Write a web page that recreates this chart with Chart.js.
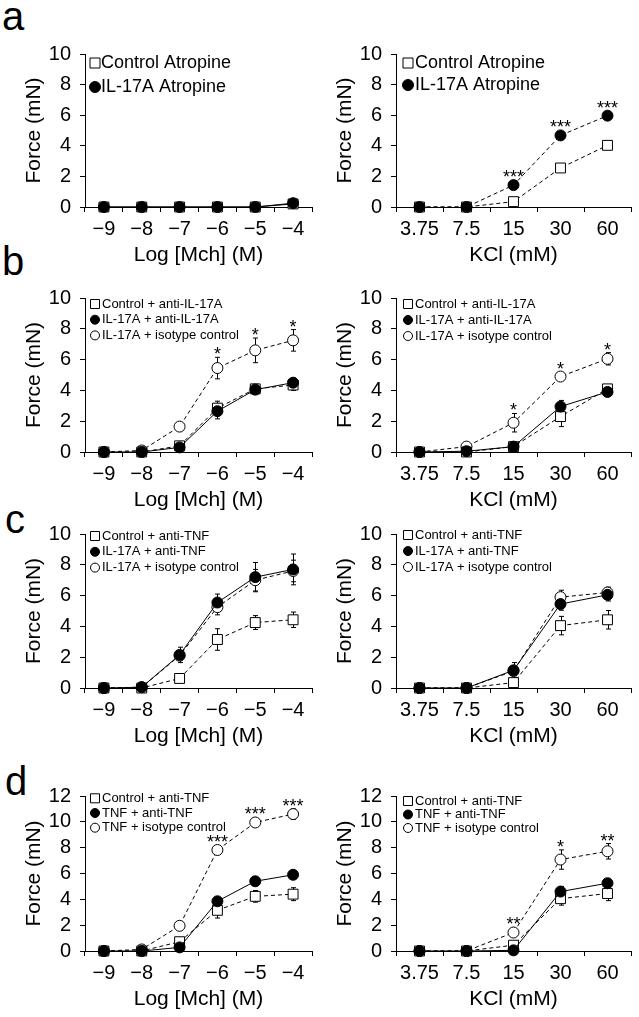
<!DOCTYPE html>
<html><head><meta charset="utf-8">
<script src="https://cdn.jsdelivr.net/npm/chart.js@4.4.1/dist/chart.umd.min.js"></script>
<style>
html,body{margin:0;padding:0;background:#fff;}
body{width:639px;height:1017px;position:relative;overflow:hidden;font-family:'Liberation Sans',Arial,sans-serif;}
.cell{position:absolute;}
.letter{position:absolute;font-size:40px;line-height:40px;color:#000;}
</style></head><body>
<div class="letter" style="left:2px;top:-4px">a</div>
<div class="letter" style="left:2px;top:241px">b</div>
<div class="letter" style="left:5px;top:499px">c</div>
<div class="letter" style="left:5px;top:761px">d</div>
<script>
// ---------- categories ----------
const mchLabels = ['\u22129','\u22128','\u22127','\u22126','\u22125','\u22124'];
const kclLabels = ['3.75','7.5','15','30','60'];
const yTitle = 'Force (mN)';
const mchTitle = 'Log [Mch] (M)';
const kclTitle = 'KCl (mM)';

// ---------- panel a ----------
const aMchControl    = [0, 0, 0, 0, 0, 0.2];
const aMchIL17A      = [0, 0, 0, 0, 0, 0.25];
const aKclControl    = [0, 0, 0.35, 2.55, 4.03];
const aKclControlErr = [0, 0, 0.1, 0.15, 0.15];
const aKclIL17A      = [0, 0, 1.43, 4.68, 5.97];
const aKclStars      = ['', '', '***', '***', '***'];

// ---------- panel b ----------
const bMchControl    = [0, 0, 0.4, 2.85, 4.1, 4.35];
const bMchControlErr = [0, 0, 0.1, 0.45, 0.3, 0.35];
const bMchIL17A      = [0, 0, 0.3, 2.65, 4.05, 4.5];
const bMchIL17AErr   = [0, 0, 0.1, 0.5, 0.3, 0.3];
const bMchIso        = [0, 0.1, 1.65, 5.45, 6.6, 7.25];
const bMchIsoErr     = [0, 0, 0.1, 0.7, 0.8, 0.7];
const bMchStars      = ['', '', '', '*', '*', '*'];

const bKclControl    = [0, 0, 0.35, 2.3, 4.1];
const bKclControlErr = [0, 0, 0.05, 0.65, 0.25];
const bKclIL17A      = [0, 0.05, 0.35, 2.95, 3.9];
const bKclIL17AErr   = [0, 0, 0.05, 0.4, 0.2];
const bKclIso        = [0, 0.35, 1.9, 4.9, 6.05];
const bKclIsoErr     = [0, 0.05, 0.6, 0.2, 0.4];
const bKclStars      = ['', '', '*', '*', '*'];

// ---------- panel c ----------
const cMchControl    = [0, 0, 0.62, 3.15, 4.25, 4.43];
const cMchControlErr = [0, 0, 0.1, 0.7, 0.45, 0.5];
const cMchIL17A      = [0, 0.05, 2.15, 5.55, 7.2, 7.7];
const cMchIL17AErr   = [0, 0, 0.5, 0.55, 0.95, 1.0];
const cMchIso        = [0, 0.05, 2.1, 5.25, 7.0, 7.6];
const cMchIsoErr     = [0, 0, 0.3, 0.5, 0.7, 0.7];

const cKclControl    = [0, 0, 0.35, 4.05, 4.43];
const cKclControlErr = [0, 0, 0.05, 0.6, 0.6];
const cKclIL17A      = [0, 0, 1.15, 5.45, 6.05];
const cKclIL17AErr   = [0, 0, 0.5, 0.4, 0.4];
const cKclIso        = [0, 0, 1.1, 5.9, 6.2];
const cKclIsoErr     = [0, 0, 0.3, 0.45, 0.35];

// ---------- panel d ----------
const dMchControl    = [0, 0, 0.72, 3.15, 4.23, 4.4];
const dMchControlErr = [0, 0, 0.1, 0.6, 0.45, 0.5];
const dMchTNF        = [0, 0, 0.28, 3.85, 5.4, 5.9];
const dMchTNFErr     = [0, 0, 0.1, 0.3, 0.25, 0.2];
const dMchIso        = [0, 0.12, 1.95, 7.82, 9.95, 10.6];
const dMchIsoErr     = [0, 0.05, 0.2, 0.3, 0.2, 0.4];
const dMchStars      = ['', '', '', '***', '***', '***'];

const dKclControl    = [0, 0, 0.45, 4.05, 4.45];
const dKclControlErr = [0, 0, 0.05, 0.5, 0.55];
const dKclTNF        = [0, 0, 0.05, 4.6, 5.25];
const dKclTNFErr     = [0, 0, 0.05, 0.4, 0.3];
const dKclIso        = [0, 0, 1.43, 7.08, 7.72];
const dKclIsoErr     = [0, 0, 0.1, 0.75, 0.6];
const dKclStars      = ['', '', '**', '*', '**'];

// ---------- styling ----------
const FONT = "'Liberation Sans', Arial, sans-serif";
const STY = {
  sq:   {ps:'rect',   r:7,   bg:'#fff', order:1},
  fill: {ps:'circle', r:5.5, bg:'#000', order:0},
  ring: {ps:'circle', r:5.5, bg:'#fff', order:2}
};
const LEG_A  = {size:18, sq:10, cr:5.5, half:5};
const LEG_S  = {size:13, sq:9,  cr:4.5, half:5};

const panels = [
  {left:0,   top:33,  w:320, h:235, pr:1, labels:mchLabels, xTitle:mchTitle, max:10,
   legend:Object.assign({x0:10, y0:9, dy:24, gap:6}, LEG_A),
   series:[
    {label:'Control Atropine', kind:'sq',   data:aMchControl, dash:false},
    {label:'IL-17A Atropine',  kind:'fill', data:aMchIL17A,   dash:false}]},
  {left:311, top:33,  w:328, h:235, pr:8, labels:kclLabels, xTitle:kclTitle, max:10,
   legend:Object.assign({x0:12, y0:9, dy:22, gap:7}, LEG_A),
   series:[
    {label:'Control Atropine', kind:'sq',   data:aKclControl, err:aKclControlErr, dash:true},
    {label:'IL-17A Atropine',  kind:'fill', data:aKclIL17A, stars:aKclStars, dash:true}]},

  {left:0,   top:277, w:320, h:236, pr:1, labels:mchLabels, xTitle:mchTitle, max:10,
   legend:Object.assign({x0:10, y0:6, dy:15.7, gap:7}, LEG_S),
   series:[
    {label:'Control + anti-IL-17A',    kind:'sq',   data:bMchControl, err:bMchControlErr, dash:true},
    {label:'IL-17A + anti-IL-17A',     kind:'fill', data:bMchIL17A,   err:bMchIL17AErr,   dash:false},
    {label:'IL-17A + isotype control', kind:'ring', data:bMchIso,     err:bMchIsoErr, stars:bMchStars, dash:true}]},
  {left:311, top:277, w:328, h:236, pr:8, labels:kclLabels, xTitle:kclTitle, max:10,
   legend:Object.assign({x0:12, y0:6, dy:16, gap:7}, LEG_S),
   series:[
    {label:'Control + anti-IL-17A',    kind:'sq',   data:bKclControl, err:bKclControlErr, dash:true},
    {label:'IL-17A + anti-IL-17A',     kind:'fill', data:bKclIL17A,   err:bKclIL17AErr,   dash:false},
    {label:'IL-17A + isotype control', kind:'ring', data:bKclIso,     err:bKclIsoErr, stars:bKclStars, dash:true}]},

  {left:0,   top:513, w:320, h:236, pr:1, labels:mchLabels, xTitle:mchTitle, max:10,
   legend:Object.assign({x0:10, y0:2, dy:15.8, gap:7}, LEG_S),
   series:[
    {label:'Control + anti-TNF',       kind:'sq',   data:cMchControl, err:cMchControlErr, dash:true},
    {label:'IL-17A + anti-TNF',        kind:'fill', data:cMchIL17A,   err:cMchIL17AErr,   dash:false},
    {label:'IL-17A + isotype control', kind:'ring', data:cMchIso,     err:cMchIsoErr,     dash:true}]},
  {left:311, top:513, w:328, h:236, pr:8, labels:kclLabels, xTitle:kclTitle, max:10,
   legend:Object.assign({x0:12, y0:1, dy:16, gap:7}, LEG_S),
   series:[
    {label:'Control + anti-TNF',       kind:'sq',   data:cKclControl, err:cKclControlErr, dash:true},
    {label:'IL-17A + anti-TNF',        kind:'fill', data:cKclIL17A,   err:cKclIL17AErr,   dash:false},
    {label:'IL-17A + isotype control', kind:'ring', data:cKclIso,     err:cKclIsoErr,     dash:true}]},

  {left:0,   top:775, w:320, h:237, pr:1, labels:mchLabels, xTitle:mchTitle, max:12,
   legend:Object.assign({x0:10, y0:2.3, dy:14.7, gap:7}, LEG_S),
   series:[
    {label:'Control + anti-TNF',    kind:'sq',   data:dMchControl, err:dMchControlErr, dash:true},
    {label:'TNF + anti-TNF',        kind:'fill', data:dMchTNF,     err:dMchTNFErr,     dash:false},
    {label:'TNF + isotype control', kind:'ring', data:dMchIso,     err:dMchIsoErr, stars:dMchStars, dash:true}]},
  {left:311, top:775, w:328, h:237, pr:8, labels:kclLabels, xTitle:kclTitle, max:12,
   legend:Object.assign({x0:12, y0:5, dy:13.5, gap:7}, LEG_S),
   series:[
    {label:'Control + anti-TNF',    kind:'sq',   data:dKclControl, err:dKclControlErr, dash:true},
    {label:'TNF + anti-TNF',        kind:'fill', data:dKclTNF,     err:dKclTNFErr,     dash:false},
    {label:'TNF + isotype control', kind:'ring', data:dKclIso,     err:dKclIsoErr, stars:dKclStars, dash:true}]}
];

function drawMarker(ctx, ps, x, y, L, bg){
  ctx.fillStyle = bg; ctx.strokeStyle = '#000'; ctx.lineWidth = 1;
  ctx.beginPath();
  if (ps === 'rect') { const h = L.sq/2; ctx.rect(x-h, y-h, L.sq, L.sq); }
  else { ctx.arc(x, y, L.cr, 0, Math.PI*2); }
  ctx.fill(); ctx.stroke();
}

const extras = {
  id: 'extras',
  beforeDatasetsDraw(chart){
    const ctx = chart.ctx, xs = chart.scales.x, ys = chart.scales.y;
    ctx.save(); ctx.strokeStyle = '#000'; ctx.lineWidth = 1; ctx.setLineDash([]);
    chart.data.datasets.forEach(d => {
      if (!d.err) return;
      d.data.forEach((v, j) => {
        const e = d.err[j]; if (!e) return;
        const px = Math.round(xs.getPixelForValue(j)) + 0.5;
        const y1 = ys.getPixelForValue(v + e), y2 = ys.getPixelForValue(Math.max(0, v - e));
        ctx.beginPath();
        ctx.moveTo(px, y1); ctx.lineTo(px, y2);
        ctx.moveTo(px - 2.5, y1); ctx.lineTo(px + 2.5, y1);
        ctx.moveTo(px - 2.5, y2); ctx.lineTo(px + 2.5, y2);
        ctx.stroke();
      });
    });
    ctx.restore();
  },
  afterDatasetsDraw(chart){
    const ctx = chart.ctx, xs = chart.scales.x, ys = chart.scales.y;
    ctx.save(); ctx.fillStyle = '#000'; ctx.font = '18px ' + FONT;
    ctx.textAlign = 'center'; ctx.textBaseline = 'middle';
    chart.data.datasets.forEach(d => {
      if (!d.stars) return;
      d.data.forEach((v, j) => {
        const s = d.stars[j]; if (!s) return;
        const e = d.err ? d.err[j] : 0;
        const px = xs.getPixelForValue(j);
        const top = Math.min(ys.getPixelForValue(v + e), ys.getPixelForValue(v) - 5) - 6;
        ctx.fillText(s, px, top + 4);
      });
    });
    ctx.restore();
  },
  afterDraw(chart, args, o){
    const L = o.legend; if (!L) return;
    const ctx = chart.ctx, ca = chart.chartArea;
    ctx.save();
    chart.data.datasets.forEach((d, i) => {
      const y = ca.top + L.y0 + i * L.dy, x = ca.left + L.x0;
      ctx.strokeStyle = '#000'; ctx.lineWidth = 1; ctx.setLineDash(d.borderDash || []);
      ctx.beginPath(); ctx.moveTo(x - L.half, y); ctx.lineTo(x + L.half, y); ctx.stroke();
      ctx.setLineDash([]);
      drawMarker(ctx, d.pointStyle, x, y, L, d.pointBackgroundColor);
      ctx.fillStyle = '#000'; ctx.font = L.size + 'px ' + FONT;
      ctx.textBaseline = 'middle'; ctx.textAlign = 'left';
      ctx.fillText(d.label, x + L.gap, y);
    });
    ctx.restore();
  }
};

function mkDs(s){
  const st = STY[s.kind];
  return {
    label: s.label, data: s.data, err: s.err, stars: s.stars,
    borderColor: '#000', borderWidth: 1, borderDash: s.dash ? [4, 3] : [],
    pointStyle: st.ps, pointRadius: st.r, pointBackgroundColor: st.bg,
    pointBorderColor: '#000', pointBorderWidth: 1, pointHoverRadius: st.r,
    tension: 0, fill: false, clip: false, order: st.order
  };
}

panels.forEach(p => {
  const div = document.createElement('div'); div.className = 'cell';
  Object.assign(div.style, {left: p.left + 'px', top: p.top + 'px', width: p.w + 'px', height: p.h + 'px'});
  const cv = document.createElement('canvas'); div.appendChild(cv); document.body.appendChild(div);
  new Chart(cv, {
    type: 'line',
    data: {labels: p.labels, datasets: p.series.map(mkDs)},
    options: {
      responsive: true, maintainAspectRatio: false, animation: false, events: [],
      layout: {padding: {left: 0, top: 20, right: p.pr, bottom: 0}},
      plugins: {legend: {display: false}, tooltip: {enabled: false}, extras: {legend: p.legend}},
      scales: {
        x: {
          type: 'category', offset: true,
          grid: {display: true, drawOnChartArea: false, drawTicks: true, tickLength: 5, color: '#000', offset: true},
          border: {display: true, color: '#000', width: 1},
          ticks: {color: '#000', font: {family: FONT, size: 20}, padding: 5, maxRotation: 0, autoSkip: false},
          title: {display: true, text: p.xTitle, color: '#000', font: {family: FONT, size: 21}, padding: {top: 0, bottom: 0}},
          afterFit(s){ s.height = 61; }
        },
        y: {
          min: 0, max: p.max,
          ticks: {stepSize: 2, autoSkip: false, color: '#000', font: {family: FONT, size: 20}, padding: 9},
          grid: {drawOnChartArea: false, drawTicks: true, tickLength: 5, color: '#000'},
          border: {display: true, color: '#000', width: 1},
          title: {display: true, text: yTitle, color: '#000', font: {family: FONT, size: 21}, padding: {top: 22, bottom: 0}},
          afterFit(s){ s.width = 85; }
        }
      }
    },
    plugins: [extras]
  });
});
</script>
</body></html>
